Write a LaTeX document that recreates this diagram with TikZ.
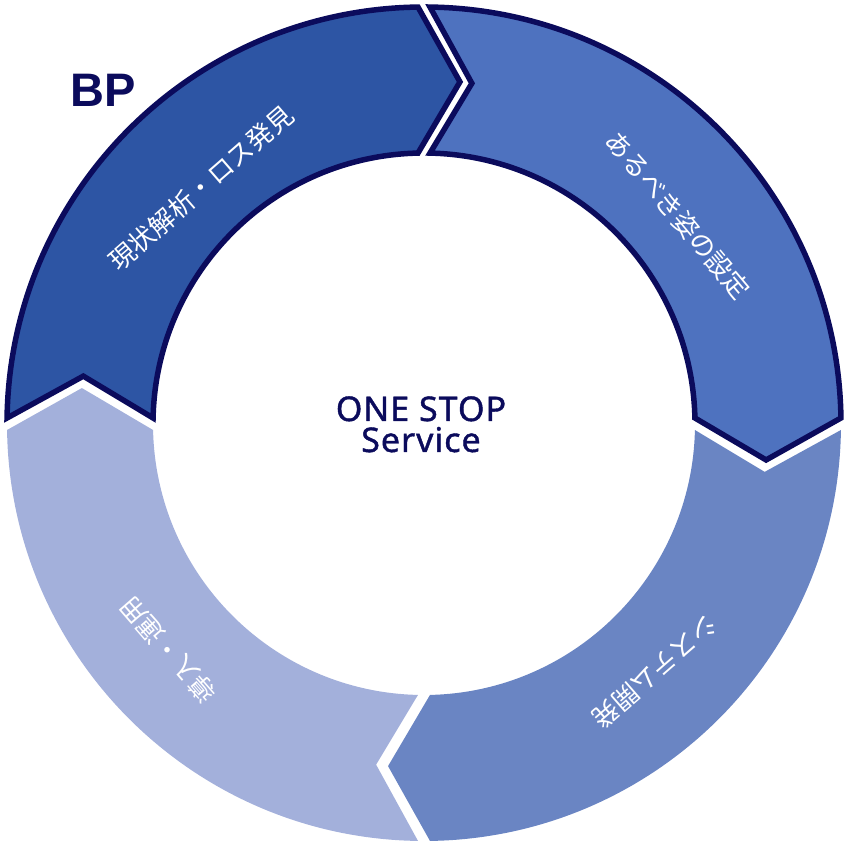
\documentclass[tikz,border=0pt]{standalone}
\usepackage{fontspec}
\newfontfamily\jpfont{Noto Sans CJK JP}
\newfontfamily\latfont{Noto Sans}[LetterSpace=3, FakeBold=1.2]
\newfontfamily\bpfont{Liberation Sans}
\definecolor{segA}{HTML}{2D55A4}
\definecolor{segB}{HTML}{4E72BF}
\definecolor{segC}{HTML}{6A85C3}
\definecolor{segD}{HTML}{A3B0DB}
\definecolor{navy}{HTML}{0B0B5C}
\newcommand\ringseg[3]{%
  \path[#3] (#1-0.824:417pt)
    arc[start angle=#1-0.824, end angle=#2+0.824, radius=417pt]
    -- (#2-6:344pt)
    -- (#2+1.27:271pt)
    arc[start angle=#2+1.27, end angle=#1-1.27, radius=271pt]
    -- (#1-8:344pt) -- cycle;}
\tikzset{
  plain/.style={fill=#1},
  outlined/.style={fill=#1, draw=navy, line width=5.5pt, line join=miter},
  lbl/.style={text=white, font=\jpfont\fontsize{26pt}{26pt}\selectfont, inner sep=0pt},
  ctr/.style={text=navy, font=\latfont\fontsize{34pt}{34pt}\selectfont, inner sep=0pt, anchor=base},
}
\begin{document}
\begin{tikzpicture}
\useasboundingbox (-424pt,-424pt) rectangle (424pt,424pt);
\ringseg{0}{-90}{plain=segC}
\ringseg{-90}{-180}{plain=segD}
\ringseg{180}{90}{outlined=segA}
\ringseg{90}{0}{outlined=segB}
\node[lbl, rotate=41] (t1) at (-223pt,236pt) {現状解析・ロス発見};
\node[lbl, rotate=-50] (t2) at (254pt,209pt) {あるべき姿の設定};
\node[lbl, rotate=221] (t3) at (231pt,-248pt) {システム開発};
\node[lbl, rotate=131] (t4) at (-256pt,-226pt) {導入・運用};
\node[ctr] (c1) at (-3pt,3pt) {ONE STOP};
\node[ctr] (c2) at (-3pt,-28pt) {Service};
\node[text=navy, font=\bpfont\bfseries\fontsize{47pt}{47pt}\selectfont, inner sep=0pt, anchor=base] (bp) at (-321pt,317pt) {BP};
\end{tikzpicture}
\end{document}
